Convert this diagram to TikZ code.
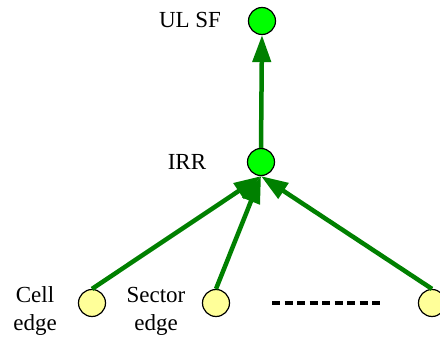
\documentclass[tikz,border=0pt]{standalone}
\usepackage{fontspec}
\setmainfont{Liberation Serif}
\usetikzlibrary{arrows.meta}
\definecolor{lgreen}{RGB}{0,255,0}
\definecolor{dgreen}{RGB}{0,128,0}
\definecolor{lyellow}{RGB}{255,255,153}
\begin{document}
\begin{tikzpicture}[x=1pt,y=-1pt,
  gnode/.style={circle,draw=black,line width=1.2pt,fill=lgreen,minimum size=27pt,inner sep=0pt},
  ynode/.style={circle,draw=black,line width=1.2pt,fill=lyellow,minimum size=27pt,inner sep=0pt},
  lbl/.style={font=\fontsize{23}{28}\selectfont,align=center,inner sep=0pt},
  conn/.style={draw=dgreen,line width=4.5pt,-{Triangle[length=27pt,width=18pt]}}]
\useasboundingbox (0,0) rectangle (440,342);
\begin{scope}
\clip (0,0) rectangle (440,342);
\node[gnode] (ulsf) at (262,21) {};
\node[gnode] (irr) at (261,162) {};
\node[ynode] (cell) at (92,303) {};
\node[ynode] (sector) at (216,303) {};
\node[ynode] (last) at (432,303) {};
\node[lbl] (tulsf) at (190,20) {UL SF};
\node[lbl] (tirr) at (187,162) {IRR};
\node[lbl] (tcell) at (35,311) {Cell\\edge};
\node[lbl] (tsector) at (156,311) {Sector\\edge};
\coordinate (d1) at (272,303);
\coordinate (d2) at (384,303);
\draw[line width=4pt,dash pattern=on 8pt off 4.5pt] (d1) -- (d2);
\draw[conn] (irr.north) -- (ulsf.south);
\draw[conn] (cell.north) -- (irr.south);
\draw[conn] (sector.north) -- (irr.south);
\draw[conn] (last.north) -- (irr.south);
\end{scope}
\end{tikzpicture}
\end{document}
